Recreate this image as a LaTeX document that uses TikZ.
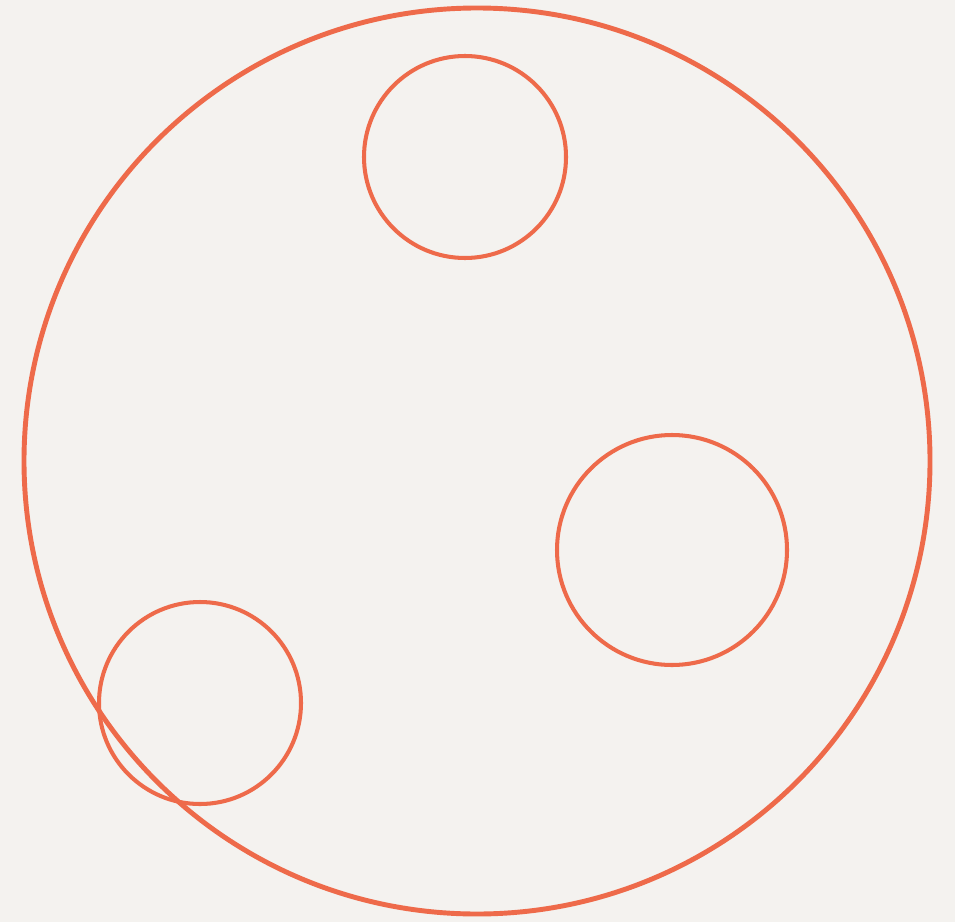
\documentclass[tikz,border=0pt]{standalone}
\usepackage{tikz}
\definecolor{fond}{HTML}{F4F2EF}
\definecolor{trait}{HTML}{EE6A4A}
\tikzset{epais/.style={trait, line width=2.8pt},
	mince/.style={trait, line width=2.3pt}}
\newcommand{\bulle}[2]{\draw[mince] (#1) circle (#2)}

\begin{document}
\begin{tikzpicture}[x=0.02cm, y=-0.02cm]
%Background
	\fill[fond] (0,0) rectangle (955,922);
	\useasboundingbox (0,0) rectangle (955,922);
%The big circle
	\draw[epais] (477,461) circle (453);
%The small ones
	\bulle{465,157}{101};
	\bulle{672,550}{115};
	\bulle{200,703}{101};
\end{tikzpicture}
\end{document}
